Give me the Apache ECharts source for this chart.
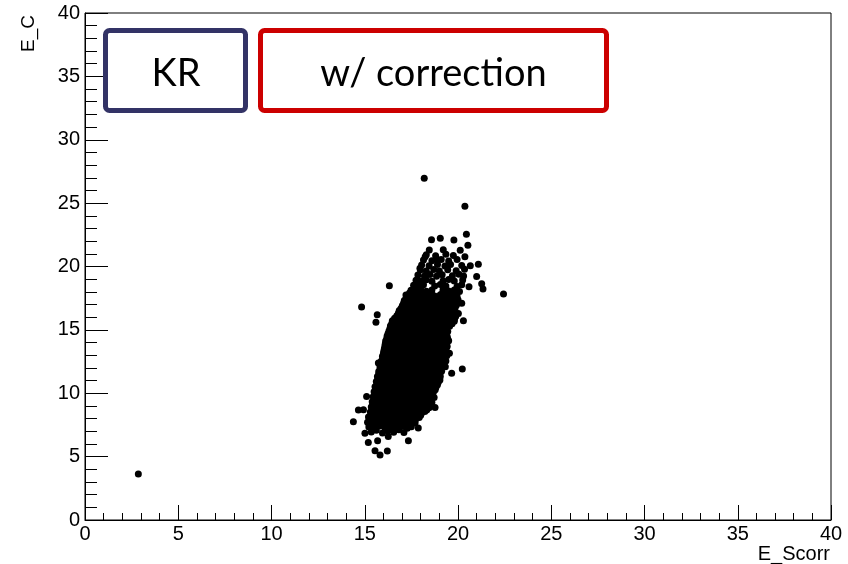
<!DOCTYPE html>
<html>
<head>
<meta charset="utf-8">
<script src="https://cdn.jsdelivr.net/npm/echarts@6/dist/echarts.min.js"></script>
<style>
  html, body { margin: 0; padding: 0; background: #fff; }
  #chart { width: 848px; height: 564px; }
</style>
</head>
<body>
<div id="chart"></div>
<script>
// Axis ranges and labels
const AXIS_MIN = 0;
const AXIS_MAX = 40;
const TICK_STEP = 5;
const xTitle = 'E_Scorr';
const yTitle = 'E_C';
const boxLabels = ['KR', 'w/ correction'];

// Events in the main band: [E_Scorr, E_C]
const bandEvents = [
  [15.35,6.95],[15.62,7.08],[15.95,6.86],[16.24,7.02],[16.55,6.93],[16.83,7.12],[17.10,6.9],
  [15.22,7.34],[15.5,7.26],[15.8,7.41],[16.1,7.22],[16.4,7.35],[16.7,7.28],[17.0,7.4],[17.28,7.24],[17.5,7.36],
  [15.15,7.72],[15.36,7.66],[15.65,7.78],[15.95,7.64],[16.25,7.75],[16.55,7.69],[16.85,7.8],[17.15,7.62],[17.45,7.74],[17.7,7.68],
  [15.2,8.12],[15.5,8.05],[15.8,8.18],[16.1,8.02],[16.4,8.14],[16.7,8.08],[17.0,8.2],[17.3,8.04],[17.6,8.15],[17.92,8.09],
  [15.3,8.52],[15.65,8.45],[15.95,8.57],[16.25,8.44],[16.55,8.55],[16.85,8.48],[17.15,8.58],[17.45,8.46],[17.75,8.54],[18.05,8.47],[18.22,8.56],
  [15.35,8.92],[15.5,8.84],[15.8,8.95],[16.1,8.86],[16.4,8.97],[16.7,8.88],[17.0,8.94],[17.3,8.85],[17.6,8.96],[17.9,8.87],[18.2,8.93],[18.45,8.86],
  [15.4,9.32],[15.65,9.25],[15.95,9.36],[16.25,9.24],[16.55,9.35],[16.85,9.27],[17.15,9.38],[17.45,9.26],[17.75,9.34],[18.05,9.23],[18.35,9.37],[18.6,9.28],
  [15.45,9.72],[15.8,9.65],[16.1,9.76],[16.4,9.64],[16.7,9.74],[17.0,9.67],[17.3,9.78],[17.6,9.66],[17.9,9.75],[18.2,9.68],[18.5,9.77],[18.72,9.66],
  [15.5,10.12],[15.65,10.05],[15.95,10.16],[16.25,10.04],[16.55,10.15],[16.85,10.07],[17.15,10.18],[17.45,10.06],[17.75,10.14],[18.05,10.03],[18.35,10.17],[18.68,10.08],
  [15.55,10.52],[15.8,10.45],[16.1,10.56],[16.4,10.44],[16.7,10.55],[17.0,10.47],[17.3,10.58],[17.6,10.46],[17.9,10.54],[18.2,10.43],[18.5,10.57],[18.82,10.48],
  [15.62,10.92],[15.95,10.85],[16.25,10.96],[16.55,10.84],[16.85,10.95],[17.15,10.87],[17.45,10.98],[17.75,10.86],[18.05,10.94],[18.35,10.83],[18.65,10.97],[18.95,10.88],
  [15.68,11.32],[15.8,11.24],[16.1,11.36],[16.4,11.25],[16.7,11.35],[17.0,11.27],[17.3,11.38],[17.6,11.26],[17.9,11.34],[18.2,11.23],[18.5,11.37],[18.8,11.28],[19.05,11.33],
  [15.75,11.72],[15.95,11.65],[16.25,11.76],[16.55,11.64],[16.85,11.75],[17.15,11.67],[17.45,11.78],[17.75,11.66],[18.05,11.74],[18.35,11.63],[18.65,11.77],[18.95,11.68],[19.12,11.74],
  [15.82,12.12],[16.1,12.05],[16.4,12.16],[16.7,12.04],[17.0,12.15],[17.3,12.07],[17.6,12.18],[17.9,12.06],[18.2,12.14],[18.5,12.03],[18.8,12.17],[19.1,12.08],[19.25,12.15],
  [15.88,12.52],[16.15,12.45],[16.45,12.56],[16.75,12.44],[17.05,12.55],[17.35,12.47],[17.65,12.58],[17.95,12.46],[18.25,12.54],[18.55,12.43],[18.85,12.57],[19.15,12.48],[19.35,12.55],
  [15.95,12.92],[16.25,12.85],[16.55,12.96],[16.85,12.84],[17.15,12.95],[17.45,12.87],[17.75,12.98],[18.05,12.86],[18.35,12.94],[18.65,12.83],[18.95,12.97],[19.25,12.88],[19.4,12.95],
  [16.02,13.32],[16.3,13.25],[16.6,13.36],[16.9,13.24],[17.2,13.35],[17.5,13.27],[17.8,13.38],[18.1,13.26],[18.4,13.34],[18.7,13.23],[19.0,13.37],[19.3,13.28],
  [16.08,13.72],[16.4,13.65],[16.7,13.76],[17.0,13.64],[17.3,13.75],[17.6,13.67],[17.9,13.78],[18.2,13.66],[18.5,13.74],[18.8,13.63],[19.1,13.77],[19.42,13.68],
  [16.12,14.12],[16.3,14.05],[16.6,14.16],[16.9,14.04],[17.2,14.15],[17.5,14.07],[17.8,14.18],[18.1,14.06],[18.4,14.14],[18.7,14.03],[19.0,14.17],[19.3,14.08],[19.5,14.14],
  [16.2,14.52],[16.45,14.45],[16.75,14.56],[17.05,14.44],[17.35,14.55],[17.65,14.47],[17.95,14.58],[18.25,14.46],[18.55,14.54],[18.85,14.43],[19.15,14.57],[19.42,14.48],
  [16.3,14.92],[16.6,14.85],[16.9,14.96],[17.2,14.84],[17.5,14.95],[17.8,14.87],[18.1,14.98],[18.4,14.86],[18.7,14.94],[19.0,14.83],[19.3,14.97],[19.45,14.88],
  [16.38,15.32],[16.65,15.25],[16.95,15.36],[17.25,15.24],[17.55,15.35],[17.85,15.27],[18.15,15.38],[18.45,15.26],[18.75,15.34],[19.05,15.23],[19.35,15.37],[19.55,15.28],
  [16.48,15.72],[16.8,15.65],[17.1,15.76],[17.4,15.64],[17.7,15.75],[18.0,15.67],[18.3,15.78],[18.6,15.66],[18.9,15.74],[19.2,15.63],[19.5,15.77],[19.8,15.68],
  [16.72,16.12],[16.95,16.05],[17.25,16.16],[17.55,16.04],[17.85,16.15],[18.15,16.07],[18.45,16.18],[18.75,16.06],[19.05,16.14],[19.35,16.03],[19.65,16.17],[19.88,16.08],
  [16.85,16.52],[17.1,16.45],[17.4,16.56],[17.7,16.44],[18.0,16.55],[18.3,16.47],[18.6,16.58],[18.9,16.46],[19.2,16.54],[19.5,16.43],[19.8,16.57],
  [17.02,16.92],[17.25,16.85],[17.55,16.96],[17.85,16.84],[18.15,16.95],[18.45,16.87],[18.75,16.98],[19.05,16.86],[19.35,16.94],[19.65,16.83],[19.92,16.97],
  [17.12,17.32],[17.4,17.25],[17.7,17.36],[18.0,17.24],[18.3,17.35],[18.6,17.27],[18.9,17.38],[19.2,17.26],[19.5,17.34],[19.8,17.23],[20.0,17.37],
  [17.28,17.72],[17.55,17.65],[17.85,17.76],[18.15,17.64],[18.45,17.75],[18.75,17.67],[19.05,17.78],[19.35,17.66],[19.65,17.74],[19.95,17.63],
  [17.48,18.12],[17.7,18.05],[18.0,18.16],[18.3,18.04],[18.6,18.15],[19.2,18.18],[19.5,18.06],[19.8,18.14],[20.08,18.03],
  [17.62,18.52],[17.85,18.45],[18.15,18.56],[18.75,18.47],[19.05,18.58],[19.35,18.46],[19.95,18.43],[20.2,18.57],
  [17.75,18.92],[18.0,18.85],[18.3,18.96],[18.6,18.84],[19.2,18.87],[19.5,18.98],[19.8,18.86],[20.25,18.94],
  [17.85,19.32],[18.2,19.25],[18.5,19.36],[18.85,19.24],[19.15,19.35],[19.7,19.27],[20.05,19.38],[20.3,19.26],
  [17.98,19.72],[18.3,19.65],[18.7,19.76],[19.0,19.64],[19.45,19.75],[19.9,19.67],[20.35,19.78],
  [18.05,20.12],[18.45,20.05],[18.9,20.16],[19.3,20.04],[19.6,20.15],[20.2,20.07],
  [18.15,20.52],[18.6,20.45],[19.1,20.56],[19.5,20.44],[19.95,20.55],
  [18.3,20.92],[18.8,20.85],[19.35,20.96],[19.75,20.86]
];

// Further events packed inside the densest part of the band
const coreEvents = [
  [15.32,7.52],[15.62,7.47],[15.92,7.55],[16.2,7.49],[16.52,7.53],[16.8,7.46],[17.1,7.54],[17.38,7.5],
  [15.28,7.91],[15.58,7.87],[15.88,7.94],[16.18,7.88],[16.48,7.92],[16.78,7.86],[17.08,7.95],[17.38,7.89],[17.72,7.93],
  [15.35,8.31],[15.62,8.27],[15.92,8.34],[16.22,8.28],[16.52,8.33],[16.82,8.26],[17.12,8.35],[17.42,8.29],[17.72,8.32],[18.0,8.27],
  [15.42,8.71],[15.72,8.66],[16.02,8.74],[16.32,8.68],[16.62,8.73],[16.92,8.67],[17.22,8.75],[17.52,8.69],[17.82,8.72],[18.12,8.66],[18.32,8.74],
  [15.42,9.11],[15.72,9.07],[16.02,9.14],[16.32,9.08],[16.62,9.13],[16.92,9.06],[17.22,9.15],[17.52,9.09],[17.82,9.12],[18.12,9.06],[18.42,9.14],
  [15.5,9.51],[15.78,9.46],[16.08,9.54],[16.38,9.48],[16.68,9.53],[16.98,9.47],[17.28,9.55],[17.58,9.49],[17.88,9.52],[18.18,9.46],[18.48,9.54],
  [15.55,9.91],[15.82,9.87],[16.12,9.94],[16.42,9.88],[16.72,9.93],[17.02,9.86],[17.32,9.95],[17.62,9.89],[17.92,9.92],[18.22,9.86],[18.52,9.94],
  [15.58,10.31],[15.88,10.27],[16.18,10.34],[16.48,10.28],[16.78,10.33],[17.08,10.26],[17.38,10.35],[17.68,10.29],[17.98,10.32],[18.28,10.26],[18.58,10.34],[18.78,10.28],
  [15.65,10.71],[15.95,10.66],[16.25,10.74],[16.55,10.68],[16.85,10.73],[17.15,10.67],[17.45,10.75],[17.75,10.69],[18.05,10.72],[18.35,10.66],[18.65,10.74],[18.9,10.68],
  [15.7,11.11],[15.98,11.07],[16.28,11.14],[16.58,11.08],[16.88,11.13],[17.18,11.06],[17.48,11.15],[17.78,11.09],[18.08,11.12],[18.38,11.06],[18.68,11.14],[18.98,11.08],
  [15.75,11.51],[16.02,11.46],[16.32,11.54],[16.62,11.48],[16.92,11.53],[17.22,11.47],[17.52,11.55],[17.82,11.49],[18.12,11.52],[18.42,11.46],[18.72,11.54],[19.02,11.48],
  [15.82,11.91],[16.08,11.87],[16.38,11.94],[16.68,11.88],[16.98,11.93],[17.28,11.86],[17.58,11.95],[17.88,11.89],[18.18,11.92],[18.48,11.86],[18.78,11.94],[19.08,11.88],
  [15.88,12.31],[16.18,12.27],[16.48,12.34],[16.78,12.28],[17.08,12.33],[17.38,12.26],[17.68,12.35],[17.98,12.29],[18.28,12.32],[18.58,12.26],[18.88,12.34],[19.18,12.28],
  [15.95,12.71],[16.22,12.66],[16.52,12.74],[16.82,12.68],[17.12,12.73],[17.42,12.67],[17.72,12.75],[18.02,12.69],[18.32,12.72],[18.62,12.66],[18.92,12.74],[19.22,12.68],
  [16.0,13.11],[16.28,13.07],[16.58,13.14],[16.88,13.08],[17.18,13.13],[17.48,13.06],[17.78,13.15],[18.08,13.09],[18.38,13.12],[18.68,13.06],[18.98,13.14],[19.28,13.08],
  [16.05,13.51],[16.35,13.46],[16.65,13.54],[16.95,13.48],[17.25,13.53],[17.55,13.47],[17.85,13.55],[18.15,13.49],[18.45,13.52],[18.75,13.46],[19.05,13.54],[19.35,13.48],
  [16.1,13.91],[16.42,13.87],[16.72,13.94],[17.02,13.88],[17.32,13.93],[17.62,13.86],[17.92,13.95],[18.22,13.89],[18.52,13.92],[18.82,13.86],[19.12,13.94],[19.4,13.88],
  [16.18,14.31],[16.48,14.27],[16.78,14.34],[17.08,14.28],[17.38,14.33],[17.68,14.26],[17.98,14.35],[18.28,14.29],[18.58,14.32],[18.88,14.26],[19.18,14.34],[19.45,14.28],
  [16.25,14.71],[16.55,14.66],[16.85,14.74],[17.15,14.68],[17.45,14.73],[17.75,14.67],[18.05,14.75],[18.35,14.69],[18.65,14.72],[18.95,14.66],[19.25,14.74],
  [16.35,15.11],[16.62,15.07],[16.92,15.14],[17.22,15.08],[17.52,15.13],[17.82,15.06],[18.12,15.15],[18.42,15.09],[18.72,15.12],[19.02,15.06],[19.32,15.14],
  [16.45,15.51],[16.72,15.46],[17.02,15.54],[17.32,15.48],[17.62,15.53],[17.92,15.47],[18.22,15.55],[18.52,15.49],[18.82,15.52],[19.12,15.46],[19.42,15.54],[19.68,15.48],
  [16.6,15.91],[16.88,15.87],[17.18,15.94],[17.48,15.88],[17.78,15.93],[18.08,15.86],[18.38,15.95],[18.68,15.89],[18.98,15.92],[19.28,15.86],[19.58,15.94],[19.82,15.88],
  [16.8,16.31],[17.05,16.27],[17.35,16.34],[17.65,16.28],[17.95,16.33],[18.25,16.26],[18.55,16.35],[18.85,16.29],[19.15,16.32],[19.45,16.26],[19.75,16.34],
  [16.95,16.71],[17.2,16.66],[17.5,16.74],[17.8,16.68],[18.1,16.73],[18.4,16.67],[18.7,16.75],[19.0,16.69],[19.3,16.72],[19.6,16.66],[19.85,16.74],
  [17.08,17.11],[17.35,17.07],[17.65,17.14],[17.95,17.08],[18.25,17.13],[18.55,17.06],[18.85,17.15],[19.15,17.09],[19.45,17.12],[19.75,17.06],
  [17.22,17.51],[17.5,17.46],[17.8,17.54],[18.1,17.48],[18.4,17.53],[18.7,17.47],[19.0,17.55],[19.3,17.49],[19.6,17.52],[19.9,17.46],
  [17.4,17.91],[17.68,17.87],[17.98,17.94],[18.28,17.88],[18.58,17.93],[19.18,17.95],[19.48,17.89],[19.78,17.92]
];

// Isolated events around the band
const strayEvents = [
  [2.86,3.63],[18.19,26.96],[20.37,24.76],[20.45,22.55],[20.53,21.68],[18.58,22.12],[19.05,22.23],
  [19.78,22.09],[18.46,21.3],[19.21,21.32],[20.12,21.28],[18.24,20.77],[18.88,20.56],[20.37,20.77],
  [20.66,20.06],[21.09,20.17],[21.0,19.22],[21.27,18.64],[21.34,18.22],[22.44,17.84],[20.59,18.41],
  [16.32,18.49],[17.78,18.67],[17.21,17.75],[17.96,19.86],[14.83,16.8],[15.67,16.19],[15.6,15.6],
  [16.39,15.12],[20.29,15.72],[20.2,17.1],[20.02,16.3],[14.39,7.76],[14.66,8.68],[14.93,8.7],
  [15.01,6.84],[15.19,6.12],[15.55,5.47],[15.82,5.13],[16.21,5.44],[15.69,6.26],[16.26,6.58],
  [17.34,6.26],[17.87,7.25],[18.77,8.87],[18.32,8.68],[20.23,11.91],[19.66,11.57],[19.32,12.1],
  [19.54,13.15],[19.03,11.04],[15.1,9.75],[15.73,12.38]
];

const chart = echarts.init(document.getElementById('chart'), null, { renderer: 'canvas' });

const axisFont = "'Liberation Sans', Arial, Helvetica, sans-serif";
const boxFont = "Lato, 'Open Sans', sans-serif";

function valueAxis(tickLen, minorLen) {
  return {
    type: 'value',
    min: AXIS_MIN,
    max: AXIS_MAX,
    interval: TICK_STEP,
    axisLine: { show: true, onZero: false, lineStyle: { color: '#000', width: 1 } },
    axisTick: { show: true, inside: true, length: tickLen, lineStyle: { color: '#000', width: 1 } },
    minorTick: { show: true, splitNumber: 5, length: minorLen, lineStyle: { color: '#000', width: 1 } },
    splitLine: { show: false },
    minorSplitLine: { show: false },
    axisLabel: { color: '#000', fontFamily: axisFont, fontSize: 20 }
  };
}

const xAxis = valueAxis(15, 7);
xAxis.axisLabel.margin = 4;
const yAxis = valueAxis(23, 12);
yAxis.axisLabel.margin = 5;

chart.setOption({
  animation: false,
  backgroundColor: '#fff',
  grid: { left: 85, right: 17, top: 13, bottom: 44, show: true, borderColor: '#000', borderWidth: 1 },
  xAxis: xAxis,
  yAxis: yAxis,
  series: [{
    type: 'scatter',
    data: bandEvents.concat(coreEvents, strayEvents),
    symbol: 'circle',
    symbolSize: 7,
    itemStyle: { color: '#000', opacity: 1 },
    silent: true
  }],
  graphic: [
    {
      type: 'rect', z: 100,
      shape: { x: 105.5, y: 30.5, width: 140, height: 80, r: 4 },
      style: { fill: '#fff', stroke: '#333366', lineWidth: 5 }
    },
    {
      type: 'rect', z: 100,
      shape: { x: 260.5, y: 30.5, width: 346, height: 80, r: 4 },
      style: { fill: '#fff', stroke: '#cc0000', lineWidth: 5 }
    },
    {
      type: 'text', z: 101, x: 176, y: 74,
      style: { text: boxLabels[0], fill: '#000', font: '38px ' + boxFont, align: 'center', verticalAlign: 'middle' }
    },
    {
      type: 'text', z: 101, x: 433.5, y: 74,
      style: { text: boxLabels[1], fill: '#000', font: '38px ' + boxFont, align: 'center', verticalAlign: 'middle' }
    },
    {
      type: 'text', z: 101, x: 29, y: 15, rotation: Math.PI / 2,
      style: { text: yTitle, fill: '#000', font: '19px ' + axisFont, align: 'right', verticalAlign: 'middle' }
    },
    {
      type: 'text', z: 101, x: 830, y: 554,
      style: { text: xTitle, fill: '#000', font: '20px ' + axisFont, align: 'right', verticalAlign: 'middle' }
    }
  ]
});
</script>
</body>
</html>
